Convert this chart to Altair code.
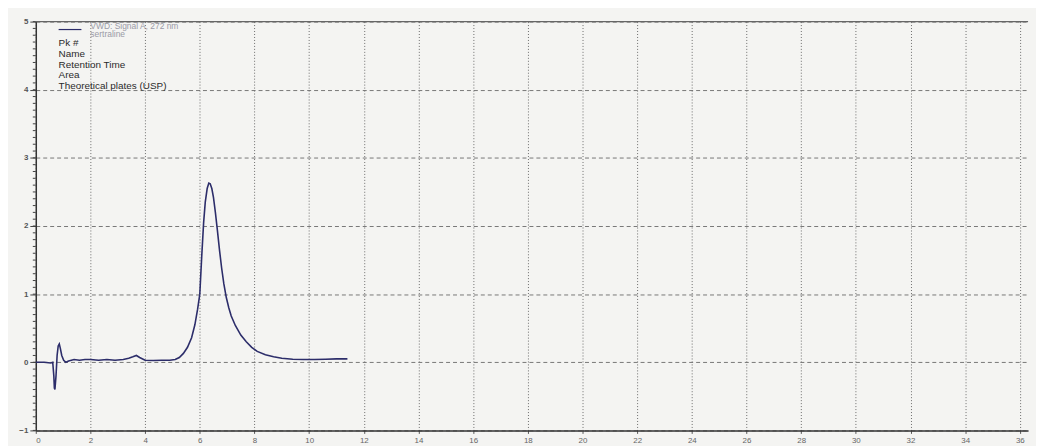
import altair as alt
import pandas as pd

# Chromatogram trace (minutes, signal)
time_min = [0.0, 0.3, 0.55, 0.62, 0.66, 0.68, 0.70, 0.74, 0.78, 0.82, 0.86, 0.90, 0.95, 1.02, 1.10,
            1.2, 1.4, 1.6, 1.8, 2.0, 2.3, 2.6, 2.9, 3.2, 3.4, 3.55, 3.68, 3.8, 4.0, 4.3, 4.6, 4.9,
            5.1, 5.25, 5.4, 5.55, 5.7, 5.82, 5.92, 6.0, 6.07, 6.14, 6.2, 6.27, 6.33, 6.38, 6.44,
            6.5, 6.57, 6.64, 6.72, 6.8, 6.88, 6.97, 7.06, 7.15, 7.3, 7.5, 7.7, 7.9, 8.1, 8.4,
            8.7, 9.0, 9.4, 9.8, 10.2, 10.6, 11.0, 11.4]
signal = [0.0, 0.0, -0.01, 0.0, -0.2, -0.38, -0.40, -0.2, 0.1, 0.24, 0.27, 0.2, 0.1, 0.03, 0.0,
          0.02, 0.04, 0.03, 0.04, 0.04, 0.03, 0.04, 0.03, 0.04, 0.06, 0.08, 0.1, 0.07, 0.03, 0.025,
          0.03, 0.03, 0.04, 0.07, 0.13, 0.22, 0.36, 0.55, 0.78, 1.0, 1.55, 2.05, 2.35, 2.55, 2.63,
          2.62, 2.55, 2.42, 2.2, 1.95, 1.65, 1.38, 1.15, 0.95, 0.8, 0.68, 0.54, 0.4, 0.3, 0.22,
          0.16, 0.11, 0.08, 0.06, 0.045, 0.04, 0.04, 0.045, 0.05, 0.05]

x_ticks = list(range(0, 37, 2))
y_ticks = [-1, 0, 1, 2, 3, 4, 5]
y_minor = [round(-1 + i * 0.1, 1) for i in range(61)]

legend_lines = ["Pk #", "Name", "Retention Time", "Area", "Theoretical plates (USP)"]
legend_title = ["VWD: Signal A, 272 nm", "sertraline"]

FONT = "Liberation Sans"
LINE = "#2c2d6a"

df = pd.DataFrame({"t": time_min, "s": signal})

x_scale = alt.Scale(domain=[0, 36.3], nice=False, zero=False)
y_scale = alt.Scale(domain=[-1, 5], nice=False, zero=False)

y_axis = alt.Axis(values=y_ticks, format="d", grid=True, gridDash=[4, 3],
                  gridColor="#6a6a6a", gridOpacity=0.9, gridWidth=1,
                  domainColor="#333", domainWidth=1.5, tickSize=6, tickColor="#444",
                  labelFont=FONT, labelFontSize=8, labelColor="#555",
                  labelPadding=2, labelFontWeight="bold")

trace = alt.Chart(df).mark_line(color=LINE, strokeWidth=1.6, clip=True).encode(
    x=alt.X("t:Q", scale=x_scale, title="Minutes",
            axis=alt.Axis(values=x_ticks, format="d", grid=True, gridDash=[1, 2],
                          gridColor="#5e5e5e", gridOpacity=0.9, gridWidth=1,
                          domainColor="#333", domainWidth=1.5, tickSize=3, tickColor="#555",
                          labelFont=FONT, labelFontSize=8, labelColor="#666",
                          labelPadding=3, titleFont=FONT, titleFontSize=8,
                          titleColor="#888", titleFontWeight="normal", titlePadding=1,
                          titleX=700, titleAlign="center")),
    y=alt.Y("s:Q", scale=y_scale, title=None, axis=y_axis),
)

minor = alt.Chart(pd.DataFrame({"s": y_minor})).mark_rule(
    color="#444", strokeWidth=1, clip=False
).encode(
    y=alt.Y("s:Q", scale=y_scale, title=None, axis=y_axis),
    x=alt.value(-3), x2=alt.value(0),
)

top_line = alt.Chart(pd.DataFrame({"s": [5]})).mark_rule(color="#666", strokeWidth=1.2).encode(
    y=alt.Y("s:Q", scale=y_scale, title=None, axis=y_axis)
)

legend_sample = alt.Chart(pd.DataFrame({"a": [0]})).mark_rule(color=LINE, strokeWidth=1.2).encode(
    x=alt.value(23), x2=alt.value(46), y=alt.value(8)
)

legend_head = alt.Chart(pd.DataFrame({"a": [0]})).mark_text(
    align="left", baseline="top", font=FONT, fontSize=8.5, color="#9a9aa6", lineHeight=8.5
).encode(
    text=alt.value(legend_title),
    x=alt.value(55), y=alt.value(0),
)

legend_body = alt.Chart(pd.DataFrame({"a": [0]})).mark_text(
    align="left", baseline="top", font=FONT, fontSize=10, color="#2a2a2a", lineHeight=10.7
).encode(
    text=alt.value(legend_lines),
    x=alt.value(23), y=alt.value(17),
)

chart = alt.layer(trace, top_line, minor, legend_sample, legend_head, legend_body).properties(
    width=1000, height=412,
    autosize=alt.AutoSizeParams(type="none"),
    padding={"left": 28, "top": 12, "right": 8, "bottom": 14},
    background="#f4f4f2",
).configure_view(stroke=None)

chart.save("out.html", embed_options={"renderer": "svg", "actions": False})
